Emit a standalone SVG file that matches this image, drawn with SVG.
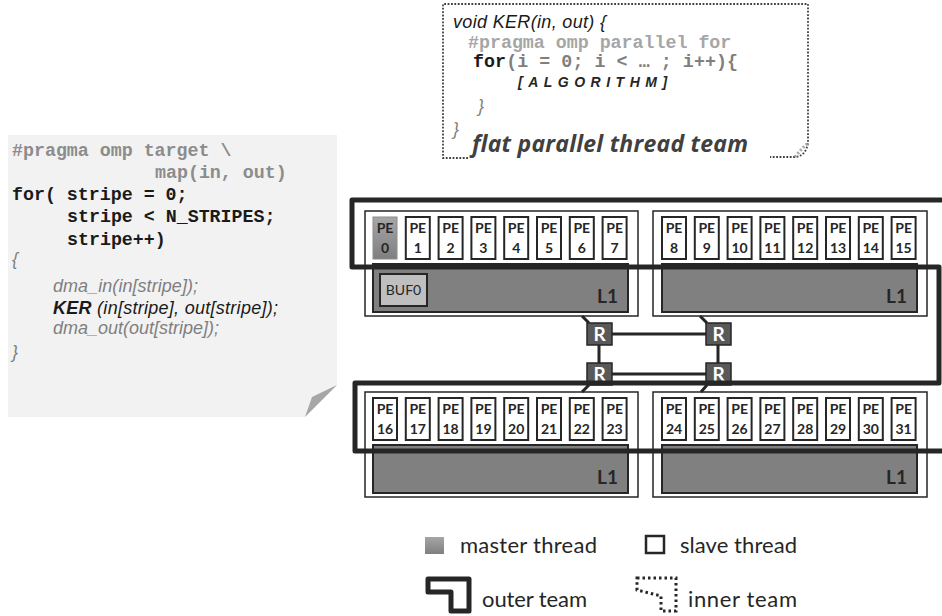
<svg xmlns="http://www.w3.org/2000/svg" width="942" height="616" viewBox="0 0 942 616">
<defs>
<linearGradient id="mg" x1="0" y1="0" x2="0" y2="1">
<stop offset="0" stop-color="#a6a6a6"/><stop offset="1" stop-color="#7f7f7f"/>
</linearGradient>
<style>
.code{font-family:"Liberation Mono","Courier New",monospace;font-size:18.3px;font-weight:bold}
.it{font-family:"Liberation Sans",Arial,sans-serif;font-style:italic;font-size:18px}
.pe{fill:#fff;stroke:#262626;stroke-width:2}
.pm{fill:url(#mg);stroke:#8c8c8c;stroke-width:1}
.pt{font-family:Lato,"Open Sans",sans-serif;font-weight:bold;font-size:14px;fill:#262626;text-anchor:middle}
.cl{fill:#fff;stroke:#262626;stroke-width:1.5}
.l1{fill:#808080;stroke:#262626;stroke-width:2}
.l1t{font-family:Lato,"Open Sans",sans-serif;font-weight:bold;font-size:19px;fill:#262626;text-anchor:end}
.r{fill:#595959;stroke:#262626;stroke-width:1.5}
.rt{font-family:Lato,"Open Sans",sans-serif;font-weight:bold;font-size:19px;fill:#fff;text-anchor:middle}
.ln{stroke:#262626;stroke-width:3;fill:none}
.lg{font-family:Lato,"Open Sans",sans-serif;font-size:22px;fill:#262626}
.dot{fill:none;stroke:#404040;stroke-width:1.8;stroke-dasharray:1.8 1.6}
</style>
</defs>
<rect width="942" height="616" fill="#fff"/>

<g id="host-code">
<polygon points="8,135 337,135 337,385 305,417 8,417" fill="#f2f2f2"/>
<polygon points="305,417 312,397 337,385" fill="#a6a6a6"/>
<text class="code" x="12" y="156" fill="#8c8c8c">#pragma omp target \</text>
<text class="code" x="155" y="178" fill="#8c8c8c">map(in, out)</text>
<text class="code" x="12" y="200" fill="#1a1a1a">for( stripe = 0;</text>
<text class="code" x="67" y="222" fill="#1a1a1a">stripe &lt; N_STRIPES;</text>
<text class="code" x="67" y="245" fill="#1a1a1a">stripe++)</text>
<text class="it" x="12" y="265" fill="#7f7f7f" font-style="normal">{</text>
<text class="it" x="53" y="292" fill="#7f7f7f" textLength="145">dma_in(in[stripe]);</text>
<text class="it" x="53" y="314" fill="#1a1a1a" textLength="225"><tspan font-weight="bold">KER</tspan> (in[stripe], out[stripe]);</text>
<text class="it" x="53" y="334" fill="#7f7f7f" textLength="166">dma_out(out[stripe]);</text>
<text class="it" x="12" y="358" fill="#7f7f7f" font-style="normal">}</text>
</g>

<g id="kernel-code">
<path class="dot" d="M468,158 H443 V4 H808 V143 Q806,156 795,157 H770"/>
<path d="M795,157 Q801,149 808,143" fill="none" stroke="#a6a6a6" stroke-width="3" stroke-dasharray="2 2"/>
<text class="it" x="453" y="28" fill="#1a1a1a" textLength="153">void KER(in, out) {</text>
<text class="code" x="468" y="48" fill="#a6a6a6" font-size="19.2px">#pragma omp parallel for</text>
<text class="code" x="473" y="67" fill="#7f7f7f" font-weight="normal" textLength="265"><tspan font-weight="bold" fill="#1a1a1a">for</tspan>(i = 0; i &lt; … ; i++){</text>
<text x="518" y="87" font-family="Liberation Sans,Arial,sans-serif" font-weight="bold" font-style="italic" font-size="14px" letter-spacing="5.5" fill="#262626">[ALGORITHM]</text>
<text class="it" x="478" y="112" fill="#7f7f7f" font-style="normal">}</text>
<text class="it" x="453" y="135" fill="#7f7f7f" font-style="normal">}</text>
<text x="472" y="152" font-family="'Open Sans',Lato,sans-serif" font-weight="bold" font-style="italic" font-size="23px" fill="#404040" textLength="276">flat parallel thread team</text>
</g>

<g id="cluster0">
<rect class="cl" x="365" y="211" width="273" height="105"/>
<rect class="pm" x="373" y="217" width="24" height="42"/>
<rect class="pe" x="405.8" y="217" width="24" height="42"/>
<rect class="pe" x="438.6" y="217" width="24" height="42"/>
<rect class="pe" x="471.4" y="217" width="24" height="42"/>
<rect class="pe" x="504.2" y="217" width="24" height="42"/>
<rect class="pe" x="537" y="217" width="24" height="42"/>
<rect class="pe" x="569.8" y="217" width="24" height="42"/>
<rect class="pe" x="602.6" y="217" width="24" height="42"/>
<g class="pt">
<text x="385" y="233">PE</text><text x="385" y="253">0</text>
<text x="417.8" y="233">PE</text><text x="417.8" y="253">1</text>
<text x="450.6" y="233">PE</text><text x="450.6" y="253">2</text>
<text x="483.4" y="233">PE</text><text x="483.4" y="253">3</text>
<text x="516.2" y="233">PE</text><text x="516.2" y="253">4</text>
<text x="549" y="233">PE</text><text x="549" y="253">5</text>
<text x="581.8" y="233">PE</text><text x="581.8" y="253">6</text>
<text x="614.6" y="233">PE</text><text x="614.6" y="253">7</text>
</g>
<rect class="l1" x="373" y="264" width="255" height="48"/>
<rect x="380" y="274" width="47" height="32" fill="#bfbfbf" stroke="#262626" stroke-width="2"/>
<text x="403.5" y="295" font-family="Lato,'Open Sans',sans-serif" font-size="14px" fill="#262626" text-anchor="middle">BUF0</text>
<text class="l1t" x="618" y="303">L1</text>
</g>

<g id="cluster1">
<rect class="cl" x="653" y="211" width="274" height="105"/>
<rect class="pe" x="662" y="217" width="24" height="42"/>
<rect class="pe" x="694.8" y="217" width="24" height="42"/>
<rect class="pe" x="727.6" y="217" width="24" height="42"/>
<rect class="pe" x="760.4" y="217" width="24" height="42"/>
<rect class="pe" x="793.2" y="217" width="24" height="42"/>
<rect class="pe" x="826" y="217" width="24" height="42"/>
<rect class="pe" x="858.8" y="217" width="24" height="42"/>
<rect class="pe" x="891.6" y="217" width="24" height="42"/>
<g class="pt">
<text x="674" y="233">PE</text><text x="674" y="253">8</text>
<text x="706.8" y="233">PE</text><text x="706.8" y="253">9</text>
<text x="739.6" y="233">PE</text><text x="739.6" y="253">10</text>
<text x="772.4" y="233">PE</text><text x="772.4" y="253">11</text>
<text x="805.2" y="233">PE</text><text x="805.2" y="253">12</text>
<text x="838" y="233">PE</text><text x="838" y="253">13</text>
<text x="870.8" y="233">PE</text><text x="870.8" y="253">14</text>
<text x="903.6" y="233">PE</text><text x="903.6" y="253">15</text>
</g>
<rect class="l1" x="662" y="264" width="255" height="48"/>
<text class="l1t" x="907" y="303">L1</text>
</g>

<g id="cluster2">
<rect class="cl" x="365" y="392" width="273" height="105"/>
<rect class="pe" x="373" y="398" width="24" height="42"/>
<rect class="pe" x="405.8" y="398" width="24" height="42"/>
<rect class="pe" x="438.6" y="398" width="24" height="42"/>
<rect class="pe" x="471.4" y="398" width="24" height="42"/>
<rect class="pe" x="504.2" y="398" width="24" height="42"/>
<rect class="pe" x="537" y="398" width="24" height="42"/>
<rect class="pe" x="569.8" y="398" width="24" height="42"/>
<rect class="pe" x="602.6" y="398" width="24" height="42"/>
<g class="pt">
<text x="385" y="414">PE</text><text x="385" y="434">16</text>
<text x="417.8" y="414">PE</text><text x="417.8" y="434">17</text>
<text x="450.6" y="414">PE</text><text x="450.6" y="434">18</text>
<text x="483.4" y="414">PE</text><text x="483.4" y="434">19</text>
<text x="516.2" y="414">PE</text><text x="516.2" y="434">20</text>
<text x="549" y="414">PE</text><text x="549" y="434">21</text>
<text x="581.8" y="414">PE</text><text x="581.8" y="434">22</text>
<text x="614.6" y="414">PE</text><text x="614.6" y="434">23</text>
</g>
<rect class="l1" x="373" y="445" width="255" height="48"/>
<text class="l1t" x="618" y="484">L1</text>
</g>

<g id="cluster3">
<rect class="cl" x="653" y="392" width="274" height="105"/>
<rect class="pe" x="662" y="398" width="24" height="42"/>
<rect class="pe" x="694.8" y="398" width="24" height="42"/>
<rect class="pe" x="727.6" y="398" width="24" height="42"/>
<rect class="pe" x="760.4" y="398" width="24" height="42"/>
<rect class="pe" x="793.2" y="398" width="24" height="42"/>
<rect class="pe" x="826" y="398" width="24" height="42"/>
<rect class="pe" x="858.8" y="398" width="24" height="42"/>
<rect class="pe" x="891.6" y="398" width="24" height="42"/>
<g class="pt">
<text x="674" y="414">PE</text><text x="674" y="434">24</text>
<text x="706.8" y="414">PE</text><text x="706.8" y="434">25</text>
<text x="739.6" y="414">PE</text><text x="739.6" y="434">26</text>
<text x="772.4" y="414">PE</text><text x="772.4" y="434">27</text>
<text x="805.2" y="414">PE</text><text x="805.2" y="434">28</text>
<text x="838" y="414">PE</text><text x="838" y="434">29</text>
<text x="870.8" y="414">PE</text><text x="870.8" y="434">30</text>
<text x="903.6" y="414">PE</text><text x="903.6" y="434">31</text>
</g>
<rect class="l1" x="662" y="445" width="255" height="48"/>
<text class="l1t" x="907" y="484">L1</text>
</g>

<g id="connectors">
<path class="ln" d="M612,334 H706 M612,374 H706 M599,345 V363 M718,345 V363"/>
<path class="ln" stroke-width="2.5" d="M582,316 L589,323 M700,316 L707,323 M589,385 L582,392 M707,385 L701,392"/>
</g>

<g id="router0"><rect class="r" x="587" y="323" width="25" height="22"/><text class="rt" x="599.5" y="341">R</text></g>
<g id="router1"><rect class="r" x="706" y="323" width="25" height="22"/><text class="rt" x="718.5" y="341">R</text></g>
<g id="router2"><rect class="r" x="587" y="363" width="25" height="22"/><text class="rt" x="599.5" y="381">R</text></g>
<g id="router3"><rect class="r" x="706" y="363" width="25" height="22"/><text class="rt" x="718.5" y="381">R</text></g>

<g id="outer-team">
<path d="M944,200 H352 V267 H939 V383 H355 V451 H944" fill="none" stroke="#262626" stroke-width="5" stroke-linejoin="round"/>
</g>

<g id="legend">
<rect x="425" y="537" width="19" height="17" fill="url(#mg)"/>
<text class="lg" x="460" y="553" textLength="137">master thread</text>
<rect x="646" y="536" width="18" height="17" fill="#fff" stroke="#262626" stroke-width="2.5"/>
<text class="lg" x="680" y="553" textLength="117">slave thread</text>
<path d="M428,579 H469 V611 H451 V592 H428 Z" fill="#fff" stroke="#262626" stroke-width="5" stroke-linejoin="round"/>
<text class="lg" x="482" y="607" textLength="105">outer team</text>
<path d="M637,578 H676 V611 H661 V596 L637,590 Z" fill="none" stroke="#262626" stroke-width="3" stroke-dasharray="2.5 3"/>
<text class="lg" x="688" y="607" textLength="109">inner team</text>
</g>
</svg>
